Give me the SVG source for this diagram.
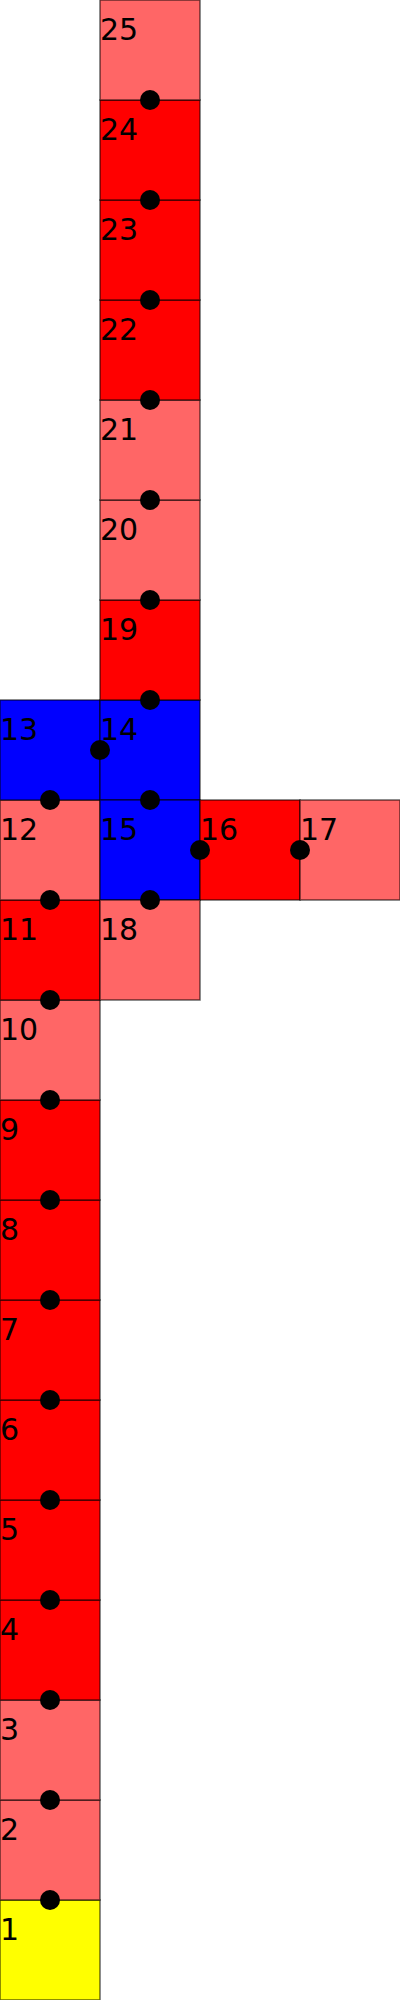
<svg xmlns="http://www.w3.org/2000/svg" width="400" height="2000" viewBox="0 0 400 2000">
<style>
.c{stroke:#000;stroke-opacity:0.6;stroke-width:1.5}
.y{fill:#ffff00}.l{fill:#ff6666}.r{fill:#ff0000}.b{fill:#0000ff}
text{font-family:"DejaVu Sans",sans-serif;font-size:30px;fill:#000}
.d{fill:#000}
</style>
<rect width="400" height="2000" fill="#fff"/>
<g id="n1"><rect class="c y" x="0" y="1900" width="100" height="100"/><text x="0" y="1940">1</text></g>
<g id="n2"><rect class="c l" x="0" y="1800" width="100" height="100"/><text x="0" y="1840">2</text></g>
<g id="n3"><rect class="c l" x="0" y="1700" width="100" height="100"/><text x="0" y="1740">3</text></g>
<g id="n4"><rect class="c r" x="0" y="1600" width="100" height="100"/><text x="0" y="1640">4</text></g>
<g id="n5"><rect class="c r" x="0" y="1500" width="100" height="100"/><text x="0" y="1540">5</text></g>
<g id="n6"><rect class="c r" x="0" y="1400" width="100" height="100"/><text x="0" y="1440">6</text></g>
<g id="n7"><rect class="c r" x="0" y="1300" width="100" height="100"/><text x="0" y="1340">7</text></g>
<g id="n8"><rect class="c r" x="0" y="1200" width="100" height="100"/><text x="0" y="1240">8</text></g>
<g id="n9"><rect class="c r" x="0" y="1100" width="100" height="100"/><text x="0" y="1140">9</text></g>
<g id="n10"><rect class="c l" x="0" y="1000" width="100" height="100"/><text x="0" y="1040">10</text></g>
<g id="n11"><rect class="c r" x="0" y="900" width="100" height="100"/><text x="0" y="940">11</text></g>
<g id="n12"><rect class="c l" x="0" y="800" width="100" height="100"/><text x="0" y="840">12</text></g>
<g id="n13"><rect class="c b" x="0" y="700" width="100" height="100"/><text x="0" y="740">13</text></g>
<g id="n14"><rect class="c b" x="100" y="700" width="100" height="100"/><text x="100" y="740">14</text></g>
<g id="n15"><rect class="c b" x="100" y="800" width="100" height="100"/><text x="100" y="840">15</text></g>
<g id="n16"><rect class="c r" x="200" y="800" width="100" height="100"/><text x="200" y="840">16</text></g>
<g id="n17"><rect class="c l" x="300" y="800" width="100" height="100"/><text x="300" y="840">17</text></g>
<g id="n18"><rect class="c l" x="100" y="900" width="100" height="100"/><text x="100" y="940">18</text></g>
<g id="n19"><rect class="c r" x="100" y="600" width="100" height="100"/><text x="100" y="640">19</text></g>
<g id="n20"><rect class="c l" x="100" y="500" width="100" height="100"/><text x="100" y="540">20</text></g>
<g id="n21"><rect class="c l" x="100" y="400" width="100" height="100"/><text x="100" y="440">21</text></g>
<g id="n22"><rect class="c r" x="100" y="300" width="100" height="100"/><text x="100" y="340">22</text></g>
<g id="n23"><rect class="c r" x="100" y="200" width="100" height="100"/><text x="100" y="240">23</text></g>
<g id="n24"><rect class="c r" x="100" y="100" width="100" height="100"/><text x="100" y="140">24</text></g>
<g id="n25"><rect class="c l" x="100" y="0" width="100" height="100"/><text x="100" y="40">25</text></g>
<g id="connectors">
<circle class="d" cx="50" cy="1900" r="10"/>
<circle class="d" cx="50" cy="1800" r="10"/>
<circle class="d" cx="50" cy="1700" r="10"/>
<circle class="d" cx="50" cy="1600" r="10"/>
<circle class="d" cx="50" cy="1500" r="10"/>
<circle class="d" cx="50" cy="1400" r="10"/>
<circle class="d" cx="50" cy="1300" r="10"/>
<circle class="d" cx="50" cy="1200" r="10"/>
<circle class="d" cx="50" cy="1100" r="10"/>
<circle class="d" cx="50" cy="1000" r="10"/>
<circle class="d" cx="50" cy="900" r="10"/>
<circle class="d" cx="50" cy="800" r="10"/>
<circle class="d" cx="100" cy="750" r="10"/>
<circle class="d" cx="150" cy="800" r="10"/>
<circle class="d" cx="200" cy="850" r="10"/>
<circle class="d" cx="300" cy="850" r="10"/>
<circle class="d" cx="150" cy="900" r="10"/>
<circle class="d" cx="150" cy="700" r="10"/>
<circle class="d" cx="150" cy="600" r="10"/>
<circle class="d" cx="150" cy="500" r="10"/>
<circle class="d" cx="150" cy="400" r="10"/>
<circle class="d" cx="150" cy="300" r="10"/>
<circle class="d" cx="150" cy="200" r="10"/>
<circle class="d" cx="150" cy="100" r="10"/>
</g>
</svg>
